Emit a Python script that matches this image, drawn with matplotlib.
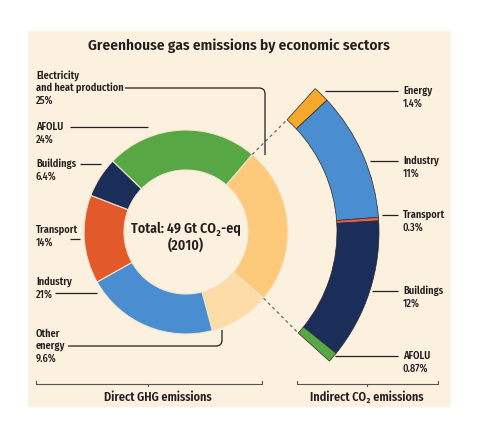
import numpy as np
import matplotlib
matplotlib.use("Agg")
import matplotlib.pyplot as plt
from matplotlib.patches import Rectangle, PathPatch
from matplotlib.path import Path

# ====== data ======
direct_labels = ["Electricity\nand heat production", "Other\nenergy", "Industry",
                 "Transport", "Buildings", "AFOLU"]
direct_pct = [25, 9.6, 21, 14, 6.4, 24]
direct_pct_txt = ["25%", "9.6%", "21%", "14%", "6.4%", "24%"]
direct_colors = ["#FDC97B", "#FDDCA8", "#4A8DD0", "#E2592A", "#1B2E5A", "#57A845"]

indirect_labels = ["Energy", "Industry", "Transport", "Buildings", "AFOLU"]
indirect_pct = [1.4, 11, 0.3, 12, 0.87]
indirect_pct_txt = ["1.4%", "11%", "0.3%", "12%", "0.87%"]
indirect_colors = ["#F5A82B", "#4A8DD0", "#E0604A", "#1B2E5A", "#57A845"]

FONT = ["Fira Sans Condensed", "DejaVu Sans"]
plt.rcParams["font.family"] = FONT

W, H = 481, 429
BG = "#FCF1DF"
TXT = "#231F20"


def Y(y):
    # image rows (top-down) -> data y
    return H - y


fig = plt.figure(figsize=(W / 100, H / 100), dpi=100)
ax = fig.add_axes([0, 0, 1, 1])
ax.set_xlim(0, W)
ax.set_ylim(0, H)
ax.axis("off")
fig.patch.set_facecolor("white")
ax.add_patch(Rectangle((28, Y(407)), 423, 376, facecolor=BG, edgecolor="none", zorder=0))

# ====== donut ======
cx, cy = 186, Y(232)
r_out, r_in = 102, 62
start = 49.5
ax.pie(direct_pct, colors=direct_colors, center=(cx, cy), radius=r_out,
       startangle=start, counterclock=False,
       wedgeprops=dict(width=r_out - r_in, edgecolor="#F3E6CF", linewidth=0.8))

# ====== indirect arc (breakdown of electricity & heat) ======
elec_share = direct_pct[0] / 100.0
tot_ind = sum(indirect_pct)
fracs = [v / tot_ind * elec_share for v in indirect_pct] + [1 - elec_share]
a_out, a_in = 193, 151
wedges, _ = ax.pie(fracs, colors=indirect_colors + ["none"], center=(cx, cy), radius=a_out,
                   startangle=start - 1.5, counterclock=False, normalize=False,
                   wedgeprops=dict(width=a_out - a_in, edgecolor="#2A2A2A", linewidth=0.5))
wedges[-1].set_visible(False)
ax.set_xlim(0, W)
ax.set_ylim(0, H)
ax.set_aspect("equal")

# dashed connectors
for a0, a1 in [(start, start - 1.5), (start - 360 * elec_share, start - 1.5 - 360 * elec_share)]:
    t0, t1 = np.deg2rad(a0), np.deg2rad(a1)
    ax.plot([cx + r_out * np.cos(t0), cx + a_in * np.cos(t1)],
            [cy + r_out * np.sin(t0), cy + a_in * np.sin(t1)],
            ls=(0, (2.5, 2.5)), color="#6E6A66", lw=0.9, zorder=3)

# ====== centre text ======
ax.text(cx, Y(229), "Total: 49 Gt CO₂-eq", ha="center", va="center",
        fontsize=10, fontweight="semibold", color=TXT)
ax.text(cx, Y(245), "(2010)", ha="center", va="center",
        fontsize=10, fontweight="semibold", color=TXT)

ax.text(239, Y(46), "Greenhouse gas emissions by economic sectors", ha="center",
        va="center", fontsize=11, fontweight="semibold", color=TXT)


def label(x, y, name, pct, nlines=1):
    ax.text(x, Y(y), name, ha="left", va="center", fontsize=7.4, fontweight="semibold",
            color=TXT, linespacing=1.2)
    ax.text(x, Y(y + 6.3 * (nlines - 1) + 12.5), pct, ha="left", va="center",
            fontsize=7.4, fontweight="medium", color=TXT)


def leader(pts):
    ax.plot([p[0] for p in pts], [Y(p[1]) for p in pts], color=TXT, lw=0.9,
            solid_capstyle="butt", zorder=4)


def rounded(p0, corner, p1, rad=6):
    # polyline with a rounded corner
    (x0, y0), (xc, yc), (x1, y1) = p0, corner, p1
    d0 = np.array([xc - x0, yc - y0], float)
    d0 /= np.linalg.norm(d0)
    d1 = np.array([x1 - xc, y1 - yc], float)
    d1 /= np.linalg.norm(d1)
    a = np.array([xc, yc]) - d0 * rad
    b = np.array([xc, yc]) + d1 * rad
    verts = [(x0, Y(y0)), (a[0], Y(a[1])), (xc, Y(yc)), (b[0], Y(b[1])), (x1, Y(y1))]
    codes = [Path.MOVETO, Path.LINETO, Path.CURVE3, Path.CURVE3, Path.LINETO]
    ax.add_patch(PathPatch(Path(verts, codes), fill=False, edgecolor=TXT, lw=0.9, zorder=4))


# left labels
LX = 36
label(LX, 81.5, direct_labels[0], direct_pct_txt[0], nlines=2)
rounded((125, 88), (265, 88), (265, 155))
label(LX, 127, direct_labels[5], direct_pct_txt[5])
leader([(70, 127), (148, 127)])
label(LX, 164, direct_labels[4], direct_pct_txt[4])
leader([(80, 164), (101, 164)])
label(LX, 230, direct_labels[3], direct_pct_txt[3])
leader([(70, 239), (80, 239)])
label(LX, 282, direct_labels[2], direct_pct_txt[2])
leader([(55, 293), (97, 293)])
label(LX, 340, direct_labels[1], direct_pct_txt[1], nlines=2)
rounded((68, 346), (222, 346), (222, 330))

# right labels
RX = 403
right_y = [91, 161, 215, 291, 356]
right_x0 = [325, 370, 382, 372, 335]
for name, pct, yy, x0 in zip(indirect_labels, indirect_pct_txt, right_y, right_x0):
    label(RX, yy, name, pct)
    leader([(x0, yy), (398, yy)])


# ====== brackets ======
def bracket(x0, x1, xm, y, xt, text):
    ax.plot([x0, x0, x1, x1], [Y(y - 3), Y(y), Y(y), Y(y - 3)], color="#555", lw=0.8)
    ax.plot([xm, xm], [Y(y), Y(y + 2)], color="#555", lw=0.8)
    ax.text(xt, Y(y + 13), text, ha="center", va="center", fontsize=8.8,
            fontweight="semibold", color=TXT)


bracket(36, 262, 148, 384, 158, "Direct GHG emissions")
bracket(297, 438, 367, 384, 367, "Indirect CO₂ emissions")

fig.savefig("out.png", dpi=100, facecolor="white")
